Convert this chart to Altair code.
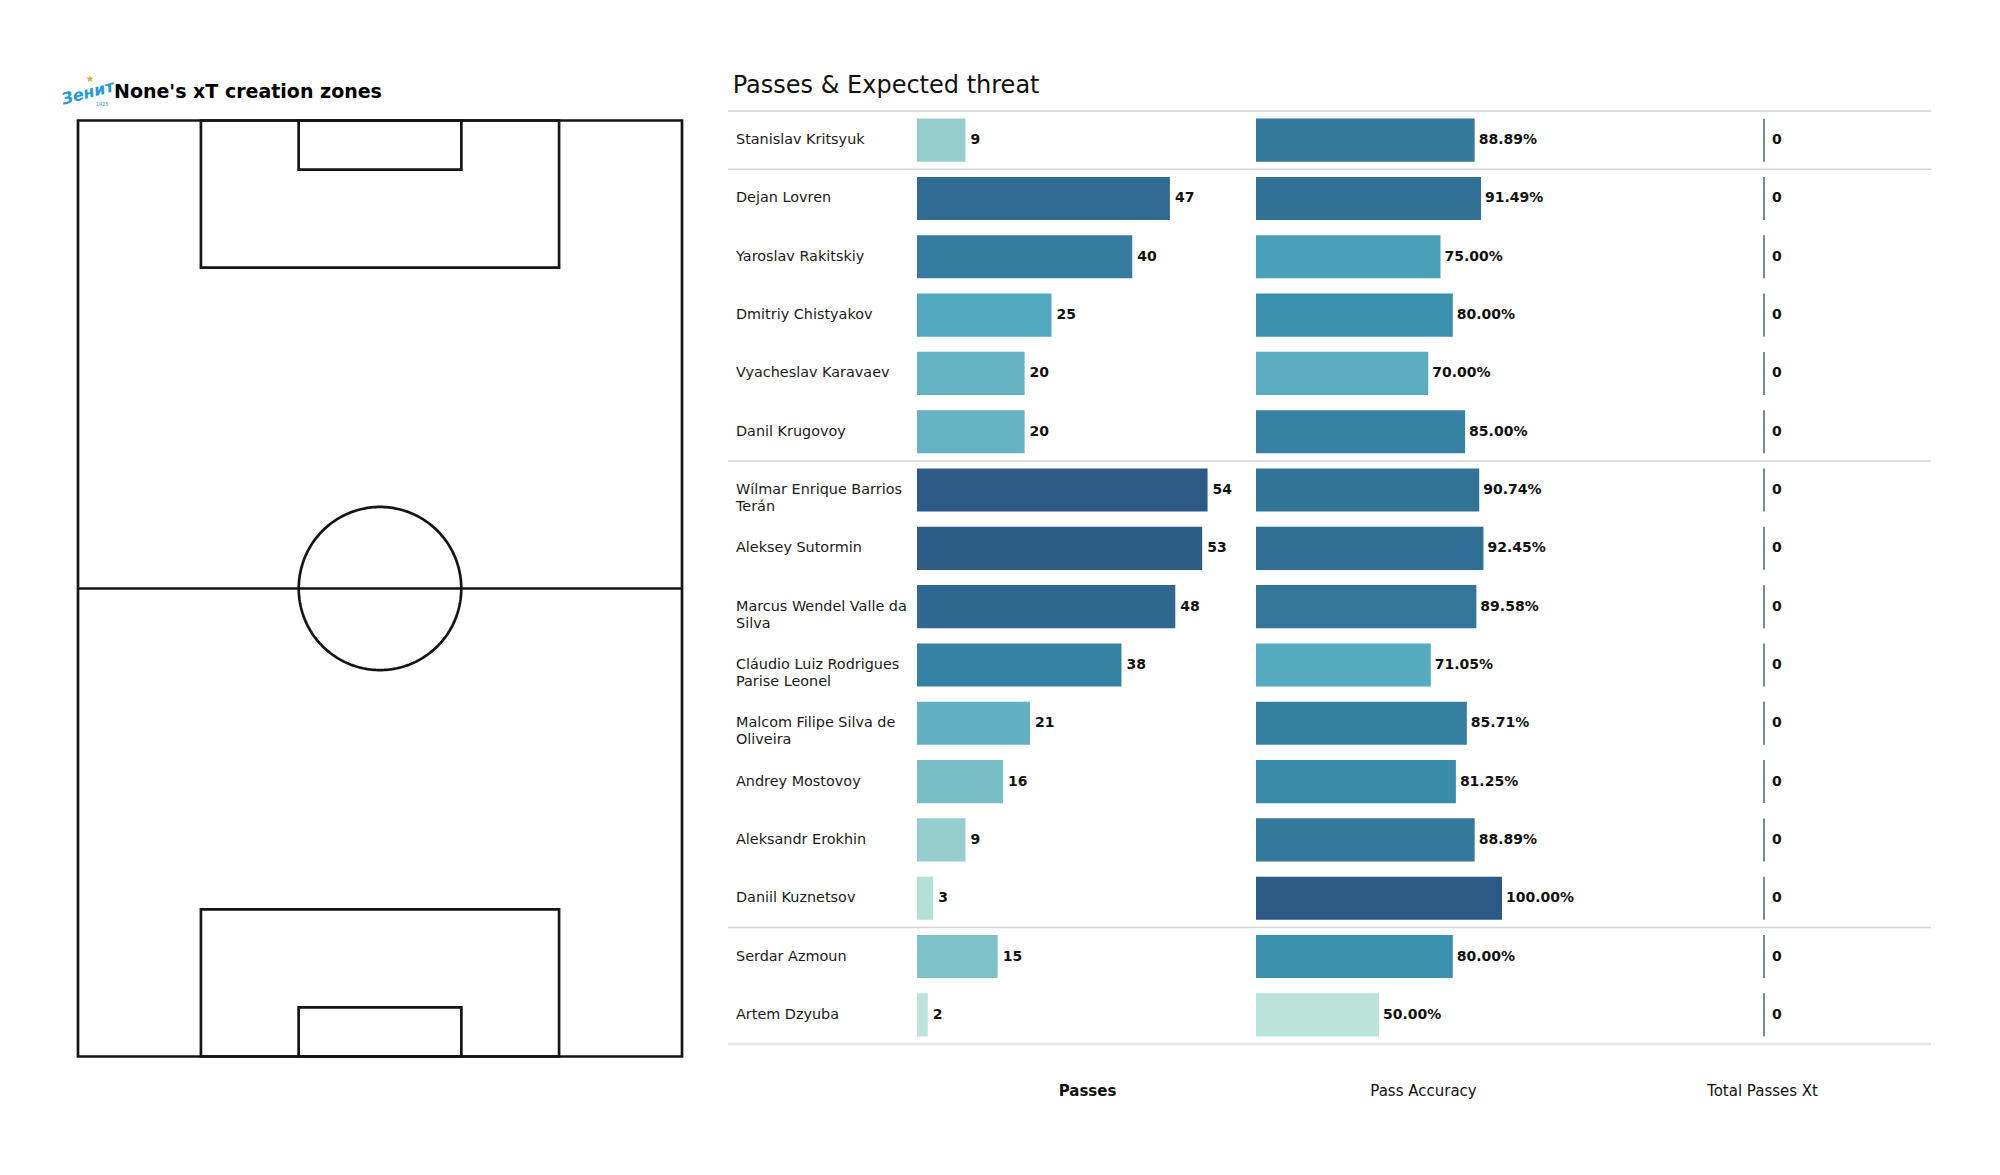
import textwrap
import numpy as np
import pandas as pd
import altair as alt

FONT = "DejaVu Sans"

# ---------------- data ----------------
names = [
    "Stanislav Kritsyuk", "Dejan Lovren", "Yaroslav Rakitskiy", "Dmitriy Chistyakov",
    "Vyacheslav Karavaev", "Danil Krugovoy", "Wílmar Enrique Barrios Terán",
    "Aleksey Sutormin", "Marcus Wendel Valle da Silva",
    "Cláudio Luiz Rodrigues Parise Leonel", "Malcom Filipe Silva de Oliveira",
    "Andrey Mostovoy", "Aleksandr Erokhin", "Daniil Kuznetsov", "Serdar Azmoun",
    "Artem Dzyuba",
]
positions = ["GK", "DEF", "DEF", "DEF", "DEF", "DEF", "MID", "MID", "MID", "MID",
             "MID", "MID", "MID", "MID", "FWD", "FWD"]
passes = [9, 47, 40, 25, 20, 20, 54, 53, 48, 38, 21, 16, 9, 3, 15, 2]
accuracy = [88.89, 91.49, 75.00, 80.00, 70.00, 85.00, 90.74, 92.45, 89.58, 71.05,
            85.71, 81.25, 88.89, 100.00, 80.00, 50.00]
xt = [0, 0, 0, 0, 0, 0, 0, 0, 0, 0, 0, 0, 0, 0, 0, 0]

column_titles = ["Passes", "Pass Accuracy", "Total Passes Xt"]
chart_title = "Passes & Expected threat"
pitch_title = ["None's xT creation zones"]
logo_name = ["Зенит"]
logo_year = ["1925"]

# pitch geometry (UEFA 105 x 68)
pitch_length = 105
pitch_width = 68
pitch_top_margin = 1.066   # blank strip above the pitch inside the panel
box_x = [0, 13.84, 13.84, 24.84, 24.84]
box_x2 = [68, 54.16, 54.16, 43.16, 43.16]
box_y = [0, 0, 88.5, 0, 99.5]
box_y2 = [105, 16.5, 105, 5.5, 105]
halfway_y = [52.5]
centre = [34, 52.5]
centre_radius = 9.15

cmap = ["#bae3d9", "#9acfd0", "#86c5cb", "#68b4c3", "#50a8bf", "#3f98b3",
        "#3584a6", "#34789b", "#2f6891", "#2c5985"]

# ---------------- pitch ----------------
boxes = pd.DataFrame({"x": box_x, "x2": box_x2, "y": box_y, "y2": box_y2})
half = pd.DataFrame({"y": halfway_y, "x": [0], "x2": [pitch_width]})
ang = np.linspace(0, 2 * np.pi, 241)
circ = pd.DataFrame({"x": centre[0] + centre_radius * np.cos(ang),
                     "y": centre[1] + centre_radius * np.sin(ang),
                     "i": np.arange(len(ang))})

xs = alt.Scale(domain=[0, pitch_width], nice=False, zero=False)
ys = alt.Scale(domain=[0, pitch_length + pitch_top_margin], nice=False, zero=False)
LINE = "#151515"
LW = 2.7

p_boxes = alt.Chart(boxes).mark_rect(fillOpacity=0, stroke=LINE, strokeWidth=LW).encode(
    x=alt.X("x:Q", scale=xs, axis=None), x2="x2:Q",
    y=alt.Y("y:Q", scale=ys, axis=None), y2="y2:Q")
p_half = alt.Chart(half).mark_rule(color=LINE, strokeWidth=LW).encode(
    x=alt.X("x:Q", scale=xs, axis=None), x2="x2:Q",
    y=alt.Y("y:Q", scale=ys, axis=None))
p_circ = alt.Chart(circ).mark_line(color=LINE, strokeWidth=LW).encode(
    x=alt.X("x:Q", scale=xs, axis=None), y=alt.Y("y:Q", scale=ys, axis=None), order="i:Q")

p_title = alt.Chart(pd.DataFrame({"t": pitch_title})).mark_text(
    font=FONT, fontSize=19, fontWeight="bold", color="#000000", align="left",
    baseline="alphabetic").encode(x=alt.value(36), y=alt.value(-13.5), text="t:N")
logo_star = alt.Chart(pd.DataFrame({"t": ["star"]})).mark_point(
    shape="M0,-1L0.2245,-0.309L0.951,-0.309L0.363,0.118L0.588,0.809L0,0.382L-0.588,0.809L-0.363,0.118L-0.951,-0.309L-0.2245,-0.309Z",
    filled=True, color="#d4a837", size=60, opacity=1).encode(
    x=alt.value(12), y=alt.value(-32))
logo_txt = alt.Chart(pd.DataFrame({"t": logo_name})).mark_text(
    font=FONT, fontSize=16, fontStyle="italic", fontWeight="bold", color="#1f9bd7",
    angle=345, align="center", baseline="middle").encode(
    x=alt.value(10), y=alt.value(-18), text="t:N")
logo_yr = alt.Chart(pd.DataFrame({"t": logo_year})).mark_text(
    font=FONT, fontSize=5, color="#1f9bd7", align="center", baseline="middle").encode(
    x=alt.value(24), y=alt.value(-7), text="t:N")

pitch = alt.layer(p_boxes, p_half, p_circ, p_title, logo_star, logo_txt, logo_yr).properties(
    width=604, height=945.5)

# ---------------- table ----------------
df = pd.DataFrame({
    "name": names,
    "label": ["\n".join(textwrap.wrap(n, 22)) for n in names],
    "pos": positions,
    "passes": passes,
    "acc": accuracy,
    "acc_label": [f"{a:.2f}%" for a in accuracy],
    "xt": xt,
})
starts = [names[i] for i in range(len(names)) if i == 0 or positions[i] != positions[i - 1]]
sep_df = pd.DataFrame({"name": starts})
bottom_df = pd.DataFrame({"name": [names[-1]]})

TH = 933
YS = alt.Scale(paddingInner=0, paddingOuter=0)
Y = alt.Y("name:N", sort=names, scale=YS, axis=None)


def rules():
    r1 = alt.Chart(sep_df).mark_rule(color="#d4d4d4", strokeWidth=1.5).encode(
        y=alt.Y("name:N", sort=names, scale=YS, axis=None, bandPosition=0))
    r2 = alt.Chart(bottom_df).mark_rule(color="#e4e4e4", strokeWidth=2.6).encode(
        y=alt.Y("name:N", sort=names, scale=YS, axis=None, bandPosition=1))
    return [r1, r2]


def footer(title, tx, bold):
    return alt.Axis(title=title, labels=False, ticks=False, domain=False, grid=False,
                    titleX=tx, titleY=46, titleAlign="center", titleBaseline="middle",
                    titleFont=FONT, titleFontSize=15, titleColor="#111111",
                    titleFontWeight="bold" if bold else "normal")


base = alt.Chart(df)

name_col = alt.layer(
    *rules(),
    base.mark_text(align="left", baseline="middle", font=FONT, fontSize=14.4,
                   color="#1a1a1a", lineBreak="\n", lineHeight=17).encode(
        x=alt.value(8), y=Y, text="label:N"),
).properties(width=189, height=TH)

ax_p = footer(column_titles[0], 170, True)
sc_p = alt.Scale(domain=[0, 63], nice=False, zero=True)
pass_col = alt.layer(
    *rules(),
    base.mark_bar(height={"band": 0.74}).encode(
        x=alt.X("passes:Q", scale=sc_p, axis=ax_p), y=Y,
        color=alt.Color("passes:Q", scale=alt.Scale(domain=[min(passes), max(passes)], range=cmap),
                        legend=None)),
    base.mark_text(align="left", baseline="middle", dx=5, font=FONT, fontSize=14,
                   fontWeight="bold", color="#111111").encode(
        x=alt.X("passes:Q", scale=sc_p, axis=ax_p), y=Y, text="passes:Q"),
).properties(width=339, height=TH)

ax_a = footer(column_titles[1], 167, False)
sc_a = alt.Scale(domain=[0, 206.5], nice=False, zero=True)
acc_col = alt.layer(
    *rules(),
    base.mark_bar(height={"band": 0.74}).encode(
        x=alt.X("acc:Q", scale=sc_a, axis=ax_a), y=Y,
        color=alt.Color("acc:Q", scale=alt.Scale(domain=[min(accuracy), max(accuracy)], range=cmap),
                        legend=None)),
    base.mark_text(align="left", baseline="middle", dx=4, font=FONT, fontSize=14,
                   fontWeight="bold", color="#111111").encode(
        x=alt.X("acc:Q", scale=sc_a, axis=ax_a), y=Y, text="acc_label:N"),
).properties(width=508, height=TH)

ax_x = footer(column_titles[2], -2, False)
sc_x = alt.Scale(domain=[0, 1], nice=False, zero=True)
xt_col = alt.layer(
    *rules(),
    base.mark_tick(thickness=1.3, size=43, color="#2e4d5c", opacity=1).encode(
        x=alt.X("xt:Q", scale=sc_x, axis=ax_x), y=Y),
    base.mark_text(align="left", baseline="middle", dx=8, font=FONT, fontSize=14,
                   fontWeight="bold", color="#111111").encode(
        x=alt.X("xt:Q", scale=sc_x, axis=ax_x), y=Y, text="xt:Q"),
).properties(width=167, height=TH)

table = alt.hconcat(name_col, pass_col, acc_col, xt_col, spacing=0, bounds="flush").resolve_scale(
    x="independent", color="independent").properties(
    title=alt.TitleParams(chart_title, anchor="start", fontSize=24, fontWeight="normal",
                          font=FONT, color="#111111", dx=6, offset=12))

chart = alt.hconcat(pitch, table, spacing=42).properties(
    padding={"left": 51, "top": 66, "right": 5, "bottom": 5}
).configure(font=FONT).configure_view(stroke=None)

chart.save("out.html", embed_options={"renderer": "svg", "actions": False})
